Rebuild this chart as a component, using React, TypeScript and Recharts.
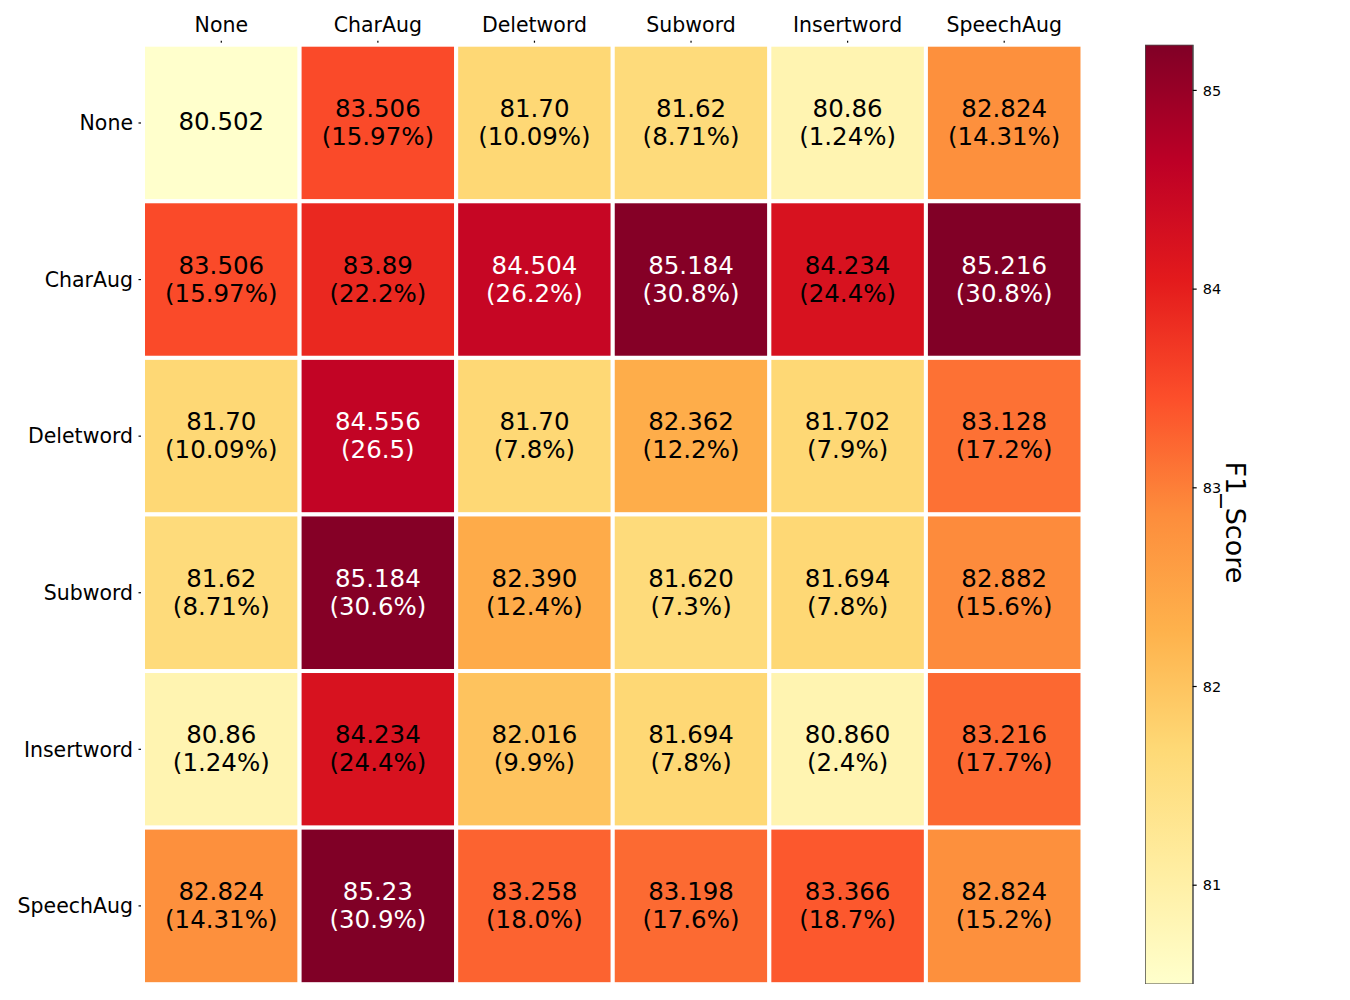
import React from 'react';
import {
  ScatterChart,
  Scatter,
  BarChart,
  Bar,
  XAxis,
  YAxis,
} from 'recharts';

const CATS = ['None', 'CharAug', 'Deletword', 'Subword', 'Insertword', 'SpeechAug'];

// F1 text as printed in each cell (row = y category, col = x category)
const F1_TEXT = [
  ['80.502', '83.506', '81.70', '81.62', '80.86', '82.824'],
  ['83.506', '83.89', '84.504', '85.184', '84.234', '85.216'],
  ['81.70', '84.556', '81.70', '82.362', '81.702', '83.128'],
  ['81.62', '85.184', '82.390', '81.620', '81.694', '82.882'],
  ['80.86', '84.234', '82.016', '81.694', '80.860', '83.216'],
  ['82.824', '85.23', '83.258', '83.198', '83.366', '82.824'],
];

const GAIN_TEXT = [
  ['', '(15.97%)', '(10.09%)', '(8.71%)', '(1.24%)', '(14.31%)'],
  ['(15.97%)', '(22.2%)', '(26.2%)', '(30.8%)', '(24.4%)', '(30.8%)'],
  ['(10.09%)', '(26.5)', '(7.8%)', '(12.2%)', '(7.9%)', '(17.2%)'],
  ['(8.71%)', '(30.6%)', '(12.4%)', '(7.3%)', '(7.8%)', '(15.6%)'],
  ['(1.24%)', '(24.4%)', '(9.9%)', '(7.8%)', '(2.4%)', '(17.7%)'],
  ['(14.31%)', '(30.9%)', '(18.0%)', '(17.6%)', '(18.7%)', '(15.2%)'],
];

const CBAR_TICKS = [81, 82, 83, 84, 85];

// YlOrRd colorbrewer stops
const YLORRD = ['#ffffcc', '#ffeda0', '#fed976', '#feb24c', '#fd8d3c', '#fc4e2a', '#e31a1c', '#bd0026', '#800026'];

const FONT = '"DejaVu Sans", Verdana, sans-serif';

const cells = F1_TEXT.flatMap((row, r) =>
  row.map((txt, c) => ({
    x: c + 0.5,
    y: r + 0.5,
    value: parseFloat(txt),
    text: txt,
    gain: GAIN_TEXT[r][c],
  }))
);
const VMIN = Math.min(...cells.map(d => d.value));
const VMAX = Math.max(...cells.map(d => d.value));
const cbarData = [{ name: 'cbar', range: [VMIN, VMAX] }];

const hexToRgb = (h: string) => [1, 3, 5].map(i => parseInt(h.slice(i, i + 2), 16));
const cmap = (t: number) => {
  const p = Math.max(0, Math.min(1, t)) * (YLORRD.length - 1);
  const i = Math.min(Math.floor(p), YLORRD.length - 2);
  const f = p - i;
  const a = hexToRgb(YLORRD[i]);
  const b = hexToRgb(YLORRD[i + 1]);
  const rgb = a.map((v, k) => Math.round(v + (b[k] - v) * f));
  return `rgb(${rgb[0]},${rgb[1]},${rgb[2]})`;
};
const norm = (v: number) => (v - VMIN) / (VMAX - VMIN);

// layout
const LEFT = 135;
const TOP = 36.7;
const PLOT = 939.5;
const PITCH = PLOT / CATS.length;
const CB_W = 47.7;

const CellShape = (props: any) => {
  const { cx, cy, payload } = props;
  const t = norm(payload.value);
  const color = t > 0.82 ? '#ffffff' : '#000000';
  return (
    <g>
      <rect x={cx - PITCH / 2} y={cy - PITCH / 2} width={PITCH} height={PITCH}
        fill={cmap(t)} stroke="#ffffff" strokeWidth={4} />
      {payload.gain ? (
        <>
          <text x={cx} y={cy - 6} textAnchor="middle" fontSize={24.5} fill={color} fontFamily={FONT}>{payload.text}</text>
          <text x={cx} y={cy + 22} textAnchor="middle" fontSize={24.5} fill={color} fontFamily={FONT}>{payload.gain}</text>
        </>
      ) : (
        <text x={cx} y={cy + 7} textAnchor="middle" fontSize={24.5} fill={color} fontFamily={FONT}>{payload.text}</text>
      )}
    </g>
  );
};

const CbarTick = (p: any) => (
  <text x={p.x} y={p.y} dy="0.36em" textAnchor="start" fontSize={14.5} fill="#000" fontFamily={FONT}>
    {p.payload.value}
  </text>
);

const tickPos = CATS.map((_, i) => i + 0.5);
const catLabel = (v: number) => CATS[Math.floor(v)] ?? '';

export default function App() {
  return (
    <div style={{ position: 'relative', width: 1334, height: 990, fontFamily: FONT, background: '#fff' }}>
      <div style={{ position: 'absolute', left: 0, top: 0 }}>
        <ScatterChart width={LEFT + PLOT} height={TOP + PLOT} margin={{ top: 0, right: 0, bottom: 0, left: 0 }}>
          <XAxis type="number" dataKey="x" orientation="top" domain={[0, 6]} ticks={tickPos}
            tickFormatter={catLabel} height={TOP} axisLine={false}
            tickLine={{ stroke: '#000', strokeWidth: 1.2 }} tickSize={4} tickMargin={9}
            tick={{ fill: '#000', fontSize: 20.5, fontFamily: FONT }} interval={0} />
          <YAxis type="number" dataKey="y" reversed domain={[0, 6]} ticks={tickPos}
            tickFormatter={catLabel} width={LEFT} axisLine={false}
            tickLine={{ stroke: '#000', strokeWidth: 1.2 }} tickSize={4.5} tickMargin={5.5}
            tick={{ fill: '#000', fontSize: 20.5, fontFamily: FONT }} interval={0} />
          <Scatter data={cells} shape={CellShape} isAnimationActive={false} />
        </ScatterChart>
      </div>
      <div style={{ position: 'absolute', left: 1137.3, top: 0 }}>
        <BarChart width={CB_W + 120} height={TOP + PLOT} data={cbarData}
          margin={{ top: TOP, right: 0, bottom: 0, left: 0 }} barCategoryGap={0}>
          <defs>
            <linearGradient id="cbGrad" x1="0" y1="1" x2="0" y2="0">
              {YLORRD.map((c, i) => (
                <stop key={c} offset={`${(i / (YLORRD.length - 1)) * 100}%`} stopColor={c} />
              ))}
            </linearGradient>
          </defs>
          <XAxis dataKey="name" hide />
          <YAxis type="number" orientation="right" domain={[VMIN, VMAX]} allowDataOverflow
            ticks={CBAR_TICKS} width={120} axisLine={false}
            tickLine={{ stroke: '#000', strokeWidth: 1.2 }} tickSize={4} tickMargin={6}
            tick={CbarTick}
            label={{
              content: (p: any) => {
                const vb = p.viewBox;
                const lx = vb.x + 43;
                const ly = vb.y + vb.height / 2 + 8;
                return (
                  <text x={lx} y={ly} transform={`rotate(90 ${lx} ${ly})`} textAnchor="middle"
                    dominantBaseline="central" fontSize={27} fill="#000" fontFamily={FONT}>F1_Score</text>
                );
              },
            }} />
          <Bar dataKey="range" fill="url(#cbGrad)" stroke="#4a4a4a" strokeWidth={1.5} isAnimationActive={false} />
        </BarChart>
      </div>
    </div>
  );
}
